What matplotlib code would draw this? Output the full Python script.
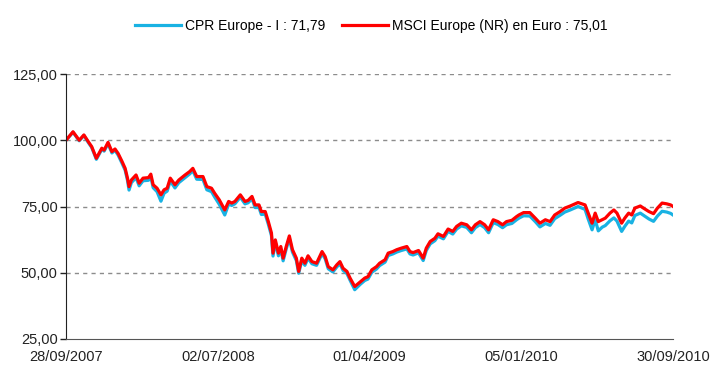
import numpy as np
import matplotlib.pyplot as plt

plt.rcParams['font.family'] = ['Liberation Sans', 'DejaVu Sans']

# séances de bourse (index) et valeurs base 100
seance = [0, 9, 17, 23, 29, 33, 39, 46, 49, 54, 59, 63, 67, 72, 76, 79, 81, 84, 90, 94,
          99, 106, 109, 112, 117, 122, 126, 130, 134, 140, 145, 153, 159, 163, 168, 176, 181, 187, 191, 197,
          204, 209, 213, 217, 224, 230, 234, 239, 243, 248, 251, 256, 260, 264, 266, 269, 273, 276, 279, 283,
          287, 291, 296, 299, 303, 307, 311, 316, 322, 329, 333, 337, 343, 348, 352, 356, 361, 365, 371, 378,
          384, 388, 393, 399, 403, 410, 414, 420, 425, 431, 438, 442, 446, 453, 459, 463, 468, 474, 478, 485,
          491, 497, 502, 508, 515, 521, 526, 532, 538, 543, 549, 555, 561, 566, 573, 579, 582, 588, 596, 603,
          609, 616, 622, 628, 635, 641, 648, 654, 658, 663, 667, 671, 676, 680, 684, 689, 693, 699, 704, 708,
          714, 718, 723, 727, 731, 738, 742, 749, 755, 760, 766, 772, 777, 780]

msci = [100.0, 103.2, 100.0, 102.0, 99.3, 97.6, 93.2, 97.0, 96.3, 99.2, 95.7, 96.7, 95.0, 92.0, 89.4, 85.7, 82.5, 85.0, 86.9, 83.8,
        85.7, 85.9, 87.2, 83.2, 81.9, 79.4, 81.3, 81.9, 85.7, 83.2, 85.0, 86.9, 88.2, 89.4, 86.3, 86.3, 82.5, 81.9, 80.0, 77.5,
        73.7, 76.9, 76.3, 76.9, 79.4, 76.9, 77.3, 78.8, 75.6, 75.6, 73.1, 73.1, 69.3, 65.0, 57.4, 62.4, 57.4, 59.9, 55.5, 59.9,
        63.9, 58.7, 55.5, 50.5, 55.5, 53.6, 56.4, 54.2, 53.6, 58.0, 56.1, 52.3, 51.1, 53.0, 54.2, 51.7, 50.5, 48.0, 44.8, 46.5,
        48.0, 48.5, 51.1, 52.3, 53.6, 54.9, 57.4, 58.0, 58.7, 59.3, 59.9, 58.0, 57.6, 58.4, 55.5, 59.3, 61.8, 63.0, 64.7, 63.7,
        66.5, 65.6, 67.5, 68.7, 68.1, 66.2, 68.1, 69.3, 68.1, 66.2, 70.0, 69.3, 68.1, 69.3, 69.8, 71.2, 71.8, 72.7, 72.7, 70.6,
        68.7, 70.0, 69.3, 71.8, 73.1, 74.4, 75.2, 76.0, 76.5, 76.0, 75.6, 72.5, 68.7, 72.5, 69.3, 70.0, 70.6, 72.5, 73.7, 72.5,
        68.7, 70.6, 72.5, 71.8, 74.4, 75.2, 74.4, 73.1, 72.3, 74.4, 76.3, 76.0, 75.6, 75.01]

cpr = [100.0, 103.0, 99.8, 101.8, 99.0, 97.3, 92.8, 96.6, 95.9, 98.7, 95.2, 96.2, 94.4, 91.3, 88.7, 84.9, 81.2, 84.0, 85.9, 82.8,
       84.7, 84.9, 86.2, 82.1, 80.6, 77.0, 80.0, 80.8, 84.6, 82.0, 84.0, 85.9, 87.3, 88.5, 85.3, 85.2, 81.3, 80.6, 78.6, 75.8,
       71.8, 75.9, 75.4, 76.0, 78.5, 76.0, 76.4, 77.9, 74.6, 74.6, 72.0, 72.1, 68.3, 64.0, 56.3, 61.4, 56.4, 59.0, 54.5, 59.0,
       63.0, 57.8, 54.6, 49.8, 54.6, 52.8, 55.5, 53.4, 52.8, 57.2, 55.3, 51.5, 50.3, 52.2, 53.4, 50.9, 49.7, 47.2, 43.6, 45.6,
       47.1, 47.6, 50.2, 51.4, 52.7, 54.0, 56.5, 57.1, 57.8, 58.4, 59.0, 57.1, 56.7, 57.5, 54.6, 58.4, 60.9, 62.1, 63.8, 62.8,
       65.6, 64.6, 66.5, 67.7, 67.1, 65.1, 67.0, 68.2, 67.0, 65.1, 68.9, 68.2, 67.0, 68.1, 68.6, 70.0, 70.6, 71.5, 71.4, 69.3,
       67.3, 68.6, 67.9, 70.4, 71.7, 72.9, 73.7, 74.5, 75.0, 74.4, 73.9, 70.3, 66.2, 70.0, 65.8, 67.2, 67.8, 69.6, 70.7, 69.5,
       65.6, 67.5, 69.5, 68.8, 71.6, 72.5, 71.7, 70.3, 69.4, 71.4, 73.2, 72.9, 72.4, 71.79]

dates = ['28/09/2007', '02/07/2008', '01/04/2009', '05/01/2010', '30/09/2010']

fig = plt.figure(figsize=(7.11, 3.68), dpi=100)
ax = fig.add_axes([66/711, 1-339/368, 607/711, 265/368])

l1, = ax.plot(seance, cpr, color='#19b2e3', lw=2.3, label='CPR Europe - I : 71,79')
l2, = ax.plot(seance, msci, color='#ff0000', lw=2.3, label='MSCI Europe (NR) en Euro : 75,01')

ax.set_xlim(0, seance[-1])
ax.set_ylim(25, 125)
ax.set_yticks([25, 50, 75, 100, 125])
ax.set_yticklabels(['25,00', '50,00', '75,00', '100,00', '125,00'])
ax.set_xticks(np.linspace(0, seance[-1], len(dates)))
ax.set_xticklabels(dates)

for y in [50, 75, 100, 125]:
    ax.axhline(y, color='#8c8c8c', lw=1, ls=(0, (3, 3)), zorder=0)

for s in ['top', 'right']:
    ax.spines[s].set_visible(False)
ax.spines['left'].set_color('#222222')
ax.spines['bottom'].set_color('#555555')
ax.tick_params(axis='y', length=4, width=1, colors='#222222', labelsize=10.5, pad=2)
ax.tick_params(axis='x', length=0, labelsize=10.5, pad=8, colors='#222222')

fig.legend(handles=[l1, l2], loc='center', bbox_to_anchor=(371/711, 1-26/368),
           ncol=2, frameon=False, fontsize=10, handlelength=3.3, columnspacing=1.2,
           handletextpad=0.3)

fig.savefig('out.png', dpi=100)
